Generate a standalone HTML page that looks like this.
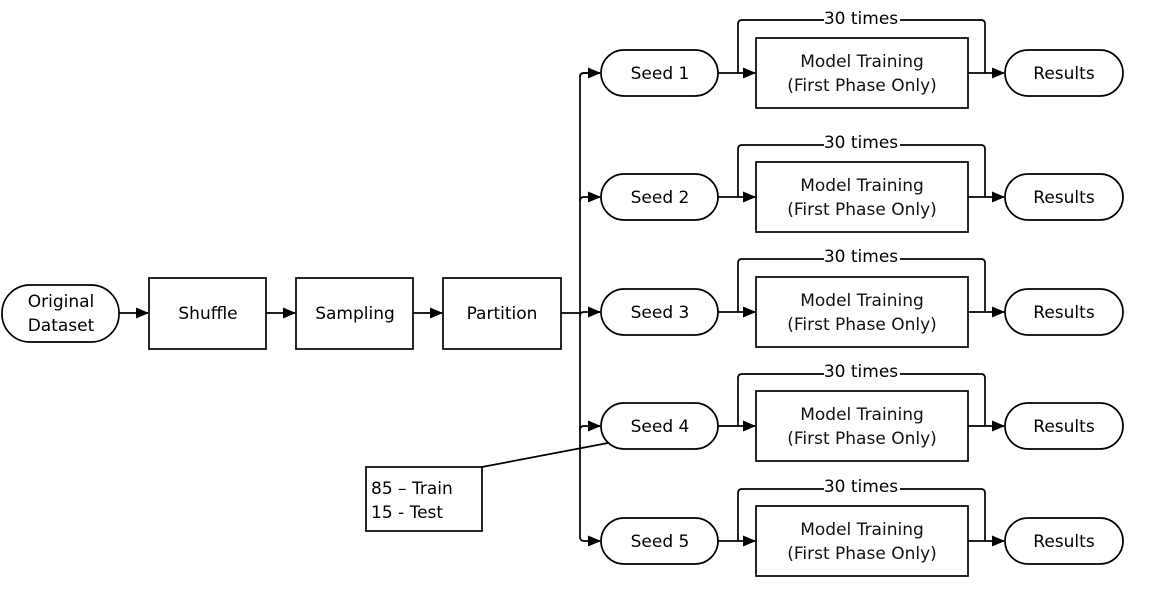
<!DOCTYPE html>
<html><head><meta charset="utf-8"><style>
html,body{margin:0;padding:0;background:#fff;}
svg{display:block;}
text{font-family:"DejaVu Sans","Liberation Sans",sans-serif;font-size:17px;fill:#000;text-anchor:middle;}
.b{fill:#fff;stroke:#000;stroke-width:1.7;}
.l{fill:none;stroke:#000;stroke-width:1.7;}
.t{fill:#111;}
</style></head><body>
<svg width="1152" height="608" viewBox="0 0 1152 608" xmlns="http://www.w3.org/2000/svg">
<defs><marker id="a" markerWidth="13" markerHeight="11" refX="12" refY="5.5" orient="auto" markerUnits="userSpaceOnUse"><path d="M0,0 L13,5.5 L0,11 Z" fill="#000"/></marker></defs>

<rect class="b" x="2" y="285" width="117" height="57" rx="28"/>
<text x="61" y="307">Original</text><text x="61" y="331">Dataset</text>
<line class="l" x1="119" y1="313" x2="148" y2="313" marker-end="url(#a)"/>
<rect class="b" x="149" y="278" width="117" height="71"/><text x="208" y="319">Shuffle</text>
<line class="l" x1="266" y1="313" x2="295" y2="313" marker-end="url(#a)"/>
<rect class="b" x="296" y="278" width="117" height="71"/><text x="355" y="319">Sampling</text>
<line class="l" x1="413" y1="313" x2="442" y2="313" marker-end="url(#a)"/>
<rect class="b" x="443" y="278" width="118" height="71"/><text x="502" y="319">Partition</text>

<line class="l" x1="561" y1="313" x2="580" y2="313"/>
<path class="l" d="M600,73 H584 Q580,73 580,77 V537 Q580,541 584,541 H600" marker-end="url(#a)"/>
<path class="l" d="M580,77 Q580,73 584,73 H600" marker-end="url(#a)"/>
<path class="l" d="M580,201 Q580,197 584,197 H600" marker-end="url(#a)"/>
<path class="l" d="M580,316 Q580,312 584,312 H600" marker-end="url(#a)"/>
<path class="l" d="M580,430 Q580,426 584,426 H600" marker-end="url(#a)"/>

<line class="l" x1="482" y1="467" x2="608" y2="443"/>
<rect class="b" x="366" y="467" width="116" height="64"/>
<text x="371" y="494" style="text-anchor:start">85 – Train</text>
<text x="371" y="518" style="text-anchor:start">15 - Test</text>

<g>
<rect class="b" x="601" y="50" width="117" height="46" rx="23"/><text x="660" y="79">Seed 1</text>
<line class="l" x1="718" y1="73" x2="755" y2="73" marker-end="url(#a)"/>
<path class="l" d="M738,73 V24 Q738,20 742,20 H981 Q985,20 985,24 V73"/>
<rect x="824" y="10" width="76" height="16" fill="#fff"/><text x="861" y="24">30 times</text>
<rect class="b" x="756" y="38" width="212" height="70"/>
<text class="t" x="862" y="67">Model Training</text><text class="t" x="862" y="91">(First Phase Only)</text>
<line class="l" x1="968" y1="73" x2="1004" y2="73" marker-end="url(#a)"/>
<rect class="b" x="1005" y="50" width="118" height="46" rx="23"/><text x="1064" y="79">Results</text>
</g>
<g>
<rect class="b" x="601" y="174" width="117" height="46" rx="23"/><text x="660" y="203">Seed 2</text>
<line class="l" x1="718" y1="197" x2="755" y2="197" marker-end="url(#a)"/>
<path class="l" d="M738,197 V149 Q738,145 742,145 H981 Q985,145 985,149 V197"/>
<rect x="824" y="134" width="76" height="16" fill="#fff"/><text x="861" y="148">30 times</text>
<rect class="b" x="756" y="162" width="212" height="70"/>
<text class="t" x="862" y="191">Model Training</text><text class="t" x="862" y="215">(First Phase Only)</text>
<line class="l" x1="968" y1="197" x2="1004" y2="197" marker-end="url(#a)"/>
<rect class="b" x="1005" y="174" width="118" height="46" rx="23"/><text x="1064" y="203">Results</text>
</g>
<g>
<rect class="b" x="601" y="289" width="117" height="46" rx="23"/><text x="660" y="318">Seed 3</text>
<line class="l" x1="718" y1="312" x2="755" y2="312" marker-end="url(#a)"/>
<path class="l" d="M738,312 V263 Q738,259 742,259 H981 Q985,259 985,263 V312"/>
<rect x="824" y="248" width="76" height="16" fill="#fff"/><text x="861" y="262">30 times</text>
<rect class="b" x="756" y="277" width="212" height="70"/>
<text class="t" x="862" y="306">Model Training</text><text class="t" x="862" y="330">(First Phase Only)</text>
<line class="l" x1="968" y1="312" x2="1004" y2="312" marker-end="url(#a)"/>
<rect class="b" x="1005" y="289" width="118" height="46" rx="23"/><text x="1064" y="318">Results</text>
</g>
<g>
<rect class="b" x="601" y="403" width="117" height="46" rx="23"/><text x="660" y="432">Seed 4</text>
<line class="l" x1="718" y1="426" x2="755" y2="426" marker-end="url(#a)"/>
<path class="l" d="M738,426 V378 Q738,374 742,374 H981 Q985,374 985,378 V426"/>
<rect x="824" y="363" width="76" height="16" fill="#fff"/><text x="861" y="377">30 times</text>
<rect class="b" x="756" y="391" width="212" height="70"/>
<text class="t" x="862" y="420">Model Training</text><text class="t" x="862" y="444">(First Phase Only)</text>
<line class="l" x1="968" y1="426" x2="1004" y2="426" marker-end="url(#a)"/>
<rect class="b" x="1005" y="403" width="118" height="46" rx="23"/><text x="1064" y="432">Results</text>
</g>
<g>
<rect class="b" x="601" y="518" width="117" height="46" rx="23"/><text x="660" y="547">Seed 5</text>
<line class="l" x1="718" y1="541" x2="755" y2="541" marker-end="url(#a)"/>
<path class="l" d="M738,541 V493 Q738,489 742,489 H981 Q985,489 985,493 V541"/>
<rect x="824" y="478" width="76" height="16" fill="#fff"/><text x="861" y="492">30 times</text>
<rect class="b" x="756" y="506" width="212" height="70"/>
<text class="t" x="862" y="535">Model Training</text><text class="t" x="862" y="559">(First Phase Only)</text>
<line class="l" x1="968" y1="541" x2="1004" y2="541" marker-end="url(#a)"/>
<rect class="b" x="1005" y="518" width="118" height="46" rx="23"/><text x="1064" y="547">Results</text>
</g>
</svg>
</body></html>
